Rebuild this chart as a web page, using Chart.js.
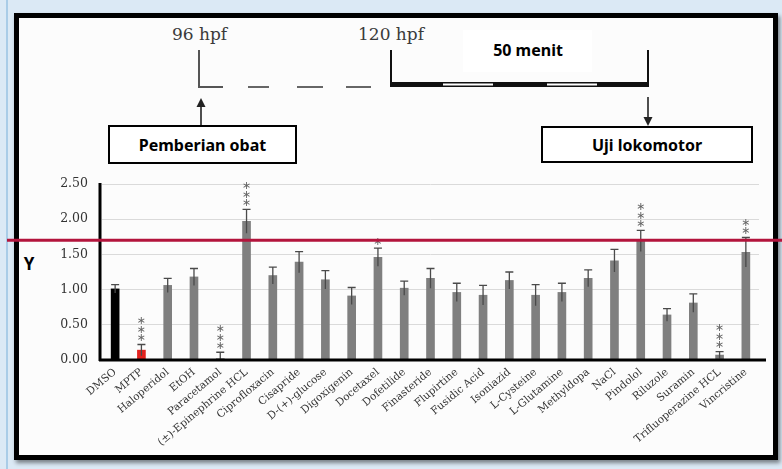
<!DOCTYPE html>
<html>
<head>
<meta charset="utf-8">
<script src="https://cdn.jsdelivr.net/npm/chart.js"></script>
<style>
  html, body { margin: 0; padding: 0; }
  body { width: 782px; height: 469px; background: #dbe9f5; position: relative; overflow: hidden; }
  #edge { position: absolute; left: 6px; top: 0; width: 2px; height: 469px; background: #a9cce7; }
  #frame { position: absolute; left: 14px; top: 13px; width: 754px; height: 437px;
           border: 5px solid #000; background: #fcfcfc; box-shadow: 2px 3px 4px rgba(0,0,0,0.45); }
  #diagram, #myChart { position: absolute; left: 0; top: 0; }
</style>
</head>
<body>
<div id="edge"></div>
<div id="frame"></div>

<svg id="diagram" width="782" height="469">
  <!-- timeline -->
  <text x="199.5" y="40" text-anchor="middle" font-family="DejaVu Serif" font-size="17" fill="#3a3a3a">96 hpf</text>
  <text x="391" y="40" text-anchor="middle" font-family="DejaVu Serif" font-size="17" fill="#3a3a3a">120 hpf</text>
  <path d="M199,50 V87 H223" stroke="#555" stroke-width="2" fill="none"/>
  <line x1="248" y1="87" x2="269" y2="87" stroke="#666" stroke-width="2"/>
  <line x1="297" y1="87" x2="323" y2="87" stroke="#666" stroke-width="2"/>
  <line x1="346" y1="87" x2="371" y2="87" stroke="#666" stroke-width="2"/>
  <rect x="463" y="30" width="129" height="42" fill="#fff"/>
  <text x="528" y="56" text-anchor="middle" font-family="Noto Sans" font-weight="700" font-size="16" fill="#000">50 menit</text>
  <line x1="391" y1="50" x2="391" y2="87" stroke="#111" stroke-width="2"/>
  <line x1="648" y1="50" x2="648" y2="87" stroke="#111" stroke-width="2"/>
  <rect x="391" y="82" width="258" height="5" fill="#111"/>
  <rect x="443" y="83.5" width="50" height="2" fill="#fff"/>
  <rect x="547" y="83.5" width="50" height="2" fill="#fff"/>
  <!-- arrows -->
  <line x1="201" y1="106" x2="201" y2="125" stroke="#222" stroke-width="1.6"/>
  <polygon points="201,98 196.5,107 205.5,107" fill="#222"/>
  <line x1="648" y1="97" x2="648" y2="118" stroke="#222" stroke-width="1.6"/>
  <polygon points="648,126 643.5,117 652.5,117" fill="#222"/>
  <!-- boxes -->
  <rect x="109" y="126" width="187" height="37" fill="#fff" stroke="#000" stroke-width="2"/>
  <text x="202.5" y="151" text-anchor="middle" font-family="Noto Sans" font-weight="700" font-size="16" fill="#000">Pemberian obat</text>
  <rect x="542" y="127" width="210" height="35" fill="#fff" stroke="#000" stroke-width="2"/>
  <text x="647" y="151" text-anchor="middle" font-family="Noto Sans" font-weight="700" font-size="16" fill="#000">Uji lokomotor</text>
  <!-- axis label -->
  <text x="29" y="270" text-anchor="middle" font-family="Noto Sans" font-weight="700" font-size="17" fill="#000">Y</text>
</svg>

<canvas id="myChart" width="782" height="469"></canvas>

<script>
var categories = ['DMSO', 'MPTP', 'Haloperidol', 'EtOH', 'Paracetamol', '(±)-Epinephrine HCL',
    'Ciprofloxacin', 'Cisapride', 'D-(+)-glucose', 'Digoxigenin', 'Docetaxel', 'Dofetilide',
    'Finasteride', 'Flupirtine', 'Fusidic Acid', 'Isoniazid', 'L-Cysteine', 'L-Glutamine',
    'Methyldopa', 'NaCl', 'Pindolol', 'Riluzole', 'Suramin', 'Trifluoperazine HCL', 'Vincristine'];
var means = [1.01, 0.14, 1.06, 1.18, 0.02, 1.97, 1.20, 1.39, 1.14, 0.91, 1.46, 1.02,
    1.16, 0.96, 0.92, 1.13, 0.92, 0.96, 1.16, 1.41, 1.69, 0.64, 0.81, 0.07, 1.53];
var errors = [0.06, 0.08, 0.10, 0.12, 0.09, 0.17, 0.12, 0.15, 0.13, 0.12, 0.13, 0.10,
    0.14, 0.13, 0.14, 0.12, 0.15, 0.13, 0.12, 0.16, 0.15, 0.09, 0.13, 0.05, 0.21];
var stars = ['', '***', '', '', '***', '***', '', '', '', '', '*', '',
    '', '', '', '', '', '', '', '', '***', '', '', '***', '**'];
var yTicks = [0, 0.5, 1, 1.5, 2, 2.5];
var refLine = 1.7;

var barColors = categories.map(function (c, i) {
    if (i === 0) return '#000000';
    if (i === 1) return '#e3231f';
    return '#7f7f7f';
});

var extras = {
    id: 'extras',
    afterDatasetsDraw: function (chart) {
        var ctx = chart.ctx;
        var y = chart.scales.y;
        var meta = chart.getDatasetMeta(0);
        ctx.save();
        // error bars
        ctx.strokeStyle = '#4a4a4a';
        ctx.lineWidth = 1.3;
        meta.data.forEach(function (bar, i) {
            var top = y.getPixelForValue(means[i] + errors[i]);
            var bot = y.getPixelForValue(Math.max(0, means[i] - errors[i]));
            ctx.beginPath();
            ctx.moveTo(bar.x, top);
            ctx.lineTo(bar.x, bot);
            ctx.moveTo(bar.x - 4, top);
            ctx.lineTo(bar.x + 4, top);
            ctx.stroke();
            // significance stars stacked vertically
            ctx.fillStyle = '#666';
            ctx.font = '11px "DejaVu Sans"';
            ctx.textAlign = 'center';
            ctx.textBaseline = 'middle';
            for (var k = 0; k < stars[i].length; k++) {
                ctx.fillText('\u2217', bar.x, top - 6 - k * 8.5);
            }
        });
        // axis lines
        ctx.strokeStyle = '#000';
        ctx.lineWidth = 3;
        ctx.beginPath();
        ctx.moveTo(100, chart.chartArea.top - 1);
        ctx.lineTo(100, y.getPixelForValue(0) + 1);
        ctx.moveTo(99, y.getPixelForValue(0));
        ctx.lineTo(766, y.getPixelForValue(0));
        ctx.stroke();
        ctx.restore();
    },
    afterDraw: function (chart) {
        var ctx = chart.ctx;
        var py = chart.scales.y.getPixelForValue(refLine);
        ctx.save();
        ctx.strokeStyle = '#b3143c';
        ctx.lineWidth = 3;
        ctx.beginPath();
        ctx.moveTo(7, py);
        ctx.lineTo(782, py);
        ctx.stroke();
        ctx.restore();
    }
};

var ctx = document.getElementById('myChart').getContext('2d');

var myChart = new Chart(ctx, {
    type: 'bar',
    data: {
        labels: categories,
        datasets: [{
            data: means,
            backgroundColor: barColors,
            barThickness: 8,
            borderWidth: 0
        }]
    },
    options: {
        responsive: false,
        animation: false,
        devicePixelRatio: 1,
        layout: { padding: { left: 0, right: 23, top: 184, bottom: 0 } },
        plugins: {
            legend: { display: false },
            tooltip: { enabled: false }
        },
        scales: {
            x: {
                grid: { display: false, drawTicks: false },
                border: { display: false },
                ticks: {
                    minRotation: 40,
                    maxRotation: 40,
                    autoSkip: false,
                    padding: 6,
                    color: '#333',
                    font: { family: 'DejaVu Serif', size: 10.5 }
                },
                afterFit: function (s) { s.height = 109; }
            },
            y: {
                min: 0,
                max: 2.5,
                afterBuildTicks: function (s) {
                    s.ticks = yTicks.map(function (v) { return { value: v }; });
                },
                grid: { color: '#dadada', lineWidth: 1, drawTicks: false },
                border: { display: false },
                ticks: {
                    padding: 14,
                    color: '#333',
                    font: { family: 'DejaVu Serif', size: 12.5 },
                    callback: function (v) { return Number(v).toFixed(2); }
                },
                afterFit: function (s) { s.width = 102; }
            }
        }
    },
    plugins: [extras]
});
</script>
</body>
</html>
